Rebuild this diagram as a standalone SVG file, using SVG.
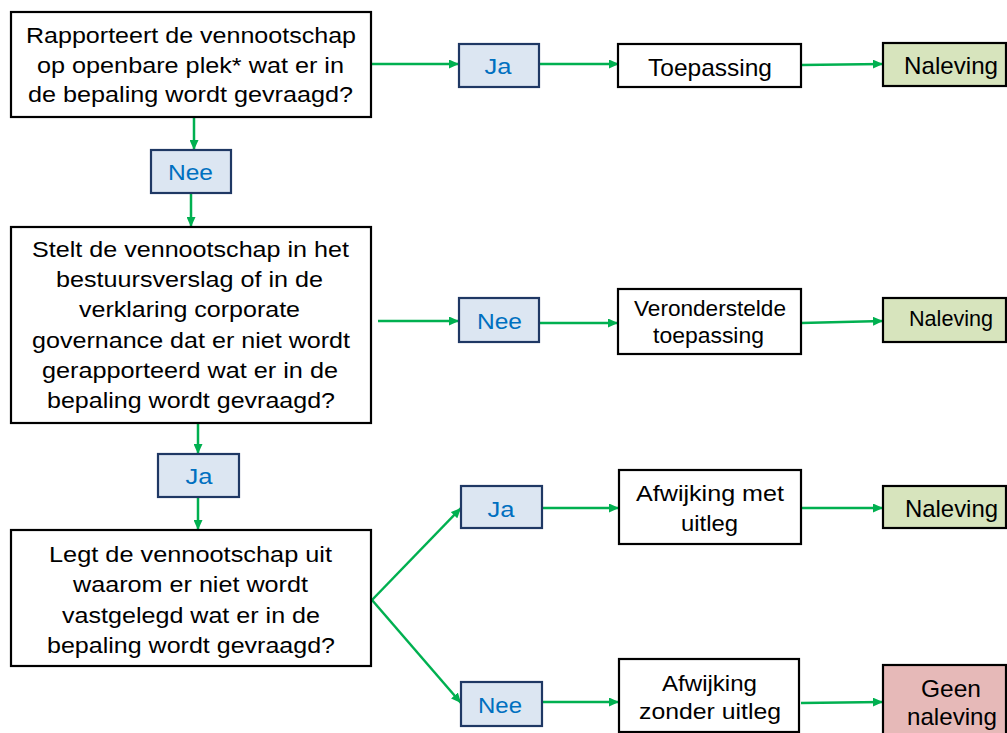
<svg xmlns="http://www.w3.org/2000/svg" width="1007" height="733" viewBox="0 0 1007 733">
<style>
.box{fill:#fff;stroke:#000;stroke-width:2.2}
.lbl{fill:#dce6f2;stroke:#1f3864;stroke-width:2.2}
.ok{fill:#d7e4bd;stroke:#000;stroke-width:2.2}
.bad{fill:#e6b9b8;stroke:#000;stroke-width:2.2}
text{font-family:"Liberation Sans",Arial,sans-serif;font-size:22px;fill:#000;text-anchor:middle}
.lt{fill:#0070c0}
.big{font-size:24px}
.con line{stroke:#00b050;stroke-width:2.5;marker-end:url(#ah)}
</style>
<defs>
<marker id="ah" markerUnits="userSpaceOnUse" markerWidth="10" markerHeight="9" refX="10" refY="4.5" orient="auto">
<path d="M0,0 L10,4.5 L0,9 z" fill="#00b050"/>
</marker>
</defs>
<rect width="1007" height="733" fill="#fff"/>

<g id="connectors" class="con">
<line x1="371" y1="64" x2="459" y2="64"/>
<line x1="539" y1="64" x2="619" y2="64"/>
<line x1="801" y1="65" x2="883" y2="64"/>
<line x1="194" y1="117" x2="194" y2="150"/>
<line x1="191" y1="193" x2="191" y2="227"/>
<line x1="378" y1="321" x2="459" y2="321"/>
<line x1="537" y1="323" x2="618" y2="323"/>
<line x1="801" y1="323" x2="883" y2="321"/>
<line x1="198" y1="423" x2="198" y2="454"/>
<line x1="198" y1="497" x2="198" y2="530"/>
<line x1="372" y1="600" x2="461" y2="508"/>
<line x1="372" y1="600" x2="461" y2="703"/>
<line x1="542" y1="508" x2="619" y2="508"/>
<line x1="801" y1="508" x2="883" y2="508"/>
<line x1="540" y1="702" x2="619" y2="702"/>
<line x1="801" y1="703" x2="883" y2="702"/>
</g>

<g id="q1">
<rect class="box" x="11" y="12" width="360" height="105"/>
<text x="191" y="43" textLength="330" lengthAdjust="spacingAndGlyphs">Rapporteert de vennootschap</text>
<text x="190.5" y="73" textLength="307" lengthAdjust="spacingAndGlyphs">op openbare plek* wat er in</text>
<text x="190.5" y="102" textLength="325" lengthAdjust="spacingAndGlyphs">de bepaling  wordt gevraagd?</text>
</g>

<g id="ja1">
<rect class="lbl" x="459" y="44" width="80" height="43"/>
<text class="lt" x="498" y="74" textLength="27" lengthAdjust="spacingAndGlyphs">Ja</text>
</g>

<g id="toepassing">
<rect class="box" x="618" y="44" width="183" height="43"/>
<text class="big" x="710" y="76" textLength="124" lengthAdjust="spacingAndGlyphs">Toepassing</text>
</g>

<g id="naleving1">
<rect class="ok" x="883" y="43" width="123" height="43"/>
<text class="big" x="951" y="74" textLength="94" lengthAdjust="spacingAndGlyphs">Naleving</text>
</g>

<g id="nee1">
<rect class="lbl" x="151" y="150" width="80" height="43"/>
<text class="lt" x="190.5" y="180" textLength="45" lengthAdjust="spacingAndGlyphs">Nee</text>
</g>

<g id="q2">
<rect class="box" x="11" y="227" width="360" height="196"/>
<text x="190.5" y="257" textLength="317" lengthAdjust="spacingAndGlyphs">Stelt de vennootschap in het</text>
<text x="189.5" y="287" textLength="267" lengthAdjust="spacingAndGlyphs">bestuursverslag of in de</text>
<text x="189.5" y="317" textLength="221" lengthAdjust="spacingAndGlyphs">verklaring corporate</text>
<text x="191" y="348" textLength="318" lengthAdjust="spacingAndGlyphs">governance dat er niet wordt</text>
<text x="190" y="378" textLength="296" lengthAdjust="spacingAndGlyphs">gerapporteerd wat er in de</text>
<text x="191" y="408" textLength="288" lengthAdjust="spacingAndGlyphs">bepaling wordt gevraagd?</text>
</g>

<g id="nee2">
<rect class="lbl" x="459" y="298" width="80" height="44"/>
<text class="lt" x="499.5" y="329" textLength="45" lengthAdjust="spacingAndGlyphs">Nee</text>
</g>

<g id="veronderstelde">
<rect class="box" x="618" y="289" width="183" height="65"/>
<text x="710" y="316" font-size="21" textLength="152" lengthAdjust="spacingAndGlyphs">Veronderstelde</text>
<text x="708.5" y="343" font-size="21" textLength="111" lengthAdjust="spacingAndGlyphs">toepassing</text>
</g>

<g id="naleving2">
<rect class="ok" x="883" y="298" width="123" height="44"/>
<text x="951" y="326" textLength="84" lengthAdjust="spacingAndGlyphs">Naleving</text>
</g>

<g id="ja2">
<rect class="lbl" x="158" y="454" width="81" height="43"/>
<text class="lt" x="199" y="484" textLength="27" lengthAdjust="spacingAndGlyphs">Ja</text>
</g>

<g id="q3">
<rect class="box" x="11" y="530" width="360" height="136"/>
<text x="190.5" y="562" textLength="283" lengthAdjust="spacingAndGlyphs">Legt de vennootschap uit</text>
<text x="190.5" y="592" textLength="235" lengthAdjust="spacingAndGlyphs">waarom er niet wordt</text>
<text x="191" y="623" textLength="258" lengthAdjust="spacingAndGlyphs">vastgelegd wat er in de</text>
<text x="191" y="653" textLength="288" lengthAdjust="spacingAndGlyphs">bepaling wordt gevraagd?</text>
</g>

<g id="ja3">
<rect class="lbl" x="461" y="486" width="81" height="42"/>
<text class="lt" x="501" y="517" textLength="27" lengthAdjust="spacingAndGlyphs">Ja</text>
</g>

<g id="afwijking-met">
<rect class="box" x="619" y="470" width="182" height="74"/>
<text x="710" y="501" textLength="148" lengthAdjust="spacingAndGlyphs">Afwijking  met</text>
<text x="709.5" y="531" textLength="57" lengthAdjust="spacingAndGlyphs">uitleg</text>
</g>

<g id="naleving3">
<rect class="ok" x="883" y="486" width="123" height="42"/>
<text class="big" x="951.5" y="517" textLength="93" lengthAdjust="spacingAndGlyphs">Naleving</text>
</g>

<g id="nee3">
<rect class="lbl" x="461" y="682" width="81" height="44"/>
<text class="lt" x="500" y="713" textLength="44" lengthAdjust="spacingAndGlyphs">Nee</text>
</g>

<g id="afwijking-zonder">
<rect class="box" x="619" y="659" width="180" height="73"/>
<text x="709.5" y="691" textLength="95" lengthAdjust="spacingAndGlyphs">Afwijking</text>
<text x="710" y="719" textLength="142" lengthAdjust="spacingAndGlyphs">zonder  uitleg</text>
</g>

<g id="geen-naleving">
<rect class="bad" x="883" y="665" width="123" height="80"/>
<text class="big" x="951" y="697" textLength="60" lengthAdjust="spacingAndGlyphs">Geen</text>
<text class="big" x="952" y="725" textLength="90" lengthAdjust="spacingAndGlyphs">naleving</text>
</g>
</svg>
